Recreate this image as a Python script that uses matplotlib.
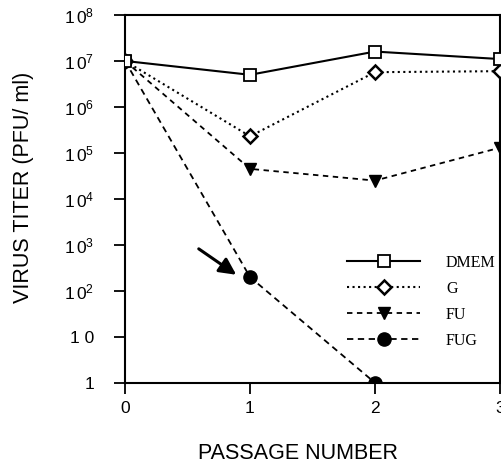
import matplotlib
matplotlib.use("Agg")
import matplotlib.pyplot as plt

plt.rcParams['font.family'] = ['Liberation Sans', 'DejaVu Sans']
plt.rcParams['mathtext.fontset'] = 'custom'
plt.rcParams['mathtext.rm'] = 'Liberation Sans'
plt.rcParams['mathtext.it'] = 'Liberation Sans'

passage = [0, 1, 2, 3]
dmem = [1.0e7, 5.0e6, 1.6e7, 1.1e7]
g = [1.0e7, 2.3e5, 5.7e6, 6.0e6]
fu = [1.0e7, 4.5e4, 2.5e4, 1.3e5]
fug_x = [0, 1, 2]
fug = [1.0e7, 200, 1]

ytick_vals = [1, 10, 1e2, 1e3, 1e4, 1e5, 1e6, 1e7, 1e8]
ytick_labels = ['1', '1 0', '$1\\,0^2$', '$1\\,0^3$', '$1\\,0^4$', '$1\\,0^5$',
                '$1\\,0^6$', '$1\\,0^7$', '$1\\,0^8$']
xtick_vals = [0, 1, 2, 3]

fig = plt.figure(figsize=(5.02, 4.68), dpi=100)
ax = fig.add_axes([0.249, 0.182, 0.747, 0.786])

ax.plot(fug_x, fug, '--', color='black', lw=1.3, dashes=(3.5, 2.5), marker='o', ms=9.5,
        mfc='black', mec='black', label='FUG', zorder=3)
ax.plot(passage, fu, '--', color='black', lw=1.3, dashes=(3, 2.5), marker='v', ms=9,
        mfc='black', mec='black', label='FU', zorder=4)
ax.plot(passage, g, ':', color='black', lw=1.5, marker='D', ms=7,
        mfc='white', mec='black', mew=1.8, label='G', zorder=5)
ax.plot(passage, dmem, '-', color='black', lw=1.5, marker='s', ms=8.5,
        mfc='white', mec='black', mew=1.3, label='DMEM', zorder=6)

# arrow pointing at the FUG point of passage 1
ax.annotate('', xy=(0.89, 224), xytext=(0.59, 820),
            arrowprops=dict(arrowstyle='-|>,head_length=1.0,head_width=0.5',
                            color='black', lw=2.2, shrinkA=0, shrinkB=0))

ax.set_yscale('log')
ax.set_xlim(0, 3)
ax.set_ylim(1, 1e8)
ax.set_yticks(ytick_vals)
ax.set_yticklabels(ytick_labels)
ax.minorticks_off()
ax.set_xticks(xtick_vals)
ax.tick_params(axis='both', direction='out', length=8, width=1.3, labelsize=12.5)
ax.tick_params(axis='y', pad=14)
ax.tick_params(axis='x', pad=5)
for s in ax.spines.values():
    s.set_linewidth(1.5)

fig.text(0.046, 0.60, 'VIRUS TITER (PFU/ ml)', fontsize=15.5, rotation=90,
         ha='center', va='center')
fig.text(0.594, 0.032, 'PASSAGE NUMBER', fontsize=15.5, ha='center', va='center')

handles, labels = ax.get_legend_handles_labels()
leg = ax.legend(handles[::-1], labels[::-1], loc='upper left',
                bbox_to_anchor=(0.562, 0.378), frameon=False,
                handlelength=4.6, handletextpad=1.6, labelspacing=0.62,
                borderpad=0.2, prop={'family': 'Liberation Serif', 'size': 11.5})

fig.savefig('out.png', dpi=100)
